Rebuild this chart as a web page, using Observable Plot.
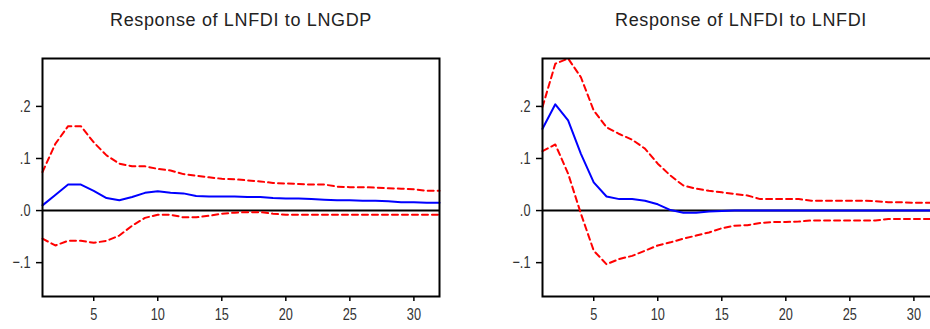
<!DOCTYPE html>
<html>
<head>
<meta charset="utf-8">
<script src="https://cdn.jsdelivr.net/npm/d3@7"></script>
<script src="https://cdn.jsdelivr.net/npm/@observablehq/plot@0.6"></script>
<style>
  html, body { margin: 0; padding: 0; background: #fff; }
  #wrap { position: relative; width: 930px; height: 329px; overflow: hidden; background: #fff; }
  #wrap > svg { position: absolute; top: 0; }
  #wrap text.panel-title { letter-spacing: 0.65px; }
</style>
</head>
<body>
<div id="wrap"></div>
<script>
// Periods (horizon)
const periods = [1,2,3,4,5,6,7,8,9,10,11,12,13,14,15,16,17,18,19,20,21,22,23,24,25,26,27,28,29,30,31,32];

// Panel titles
const titles = ["Response of LNFDI to LNGDP", "Response of LNFDI to LNFDI"];

// Tick values
const yTicks = [-0.1, 0.0, 0.1, 0.2];
const xTicks = [5, 10, 15, 20, 25, 30];

// Panel 1: response of LNFDI to LNGDP
const gdpResp  = [0.010,0.030,0.050,0.050,0.038,0.024,0.020,0.026,0.034,0.037,0.034,0.033,0.028,0.027,0.027,0.027,0.026,0.026,0.024,0.023,0.023,0.022,0.021,0.020,0.020,0.019,0.019,0.018,0.016,0.016,0.015,0.015];
const gdpUpper = [0.074,0.128,0.162,0.162,0.131,0.106,0.090,0.085,0.085,0.080,0.077,0.070,0.067,0.064,0.061,0.060,0.058,0.056,0.053,0.052,0.051,0.050,0.050,0.046,0.045,0.045,0.044,0.043,0.042,0.041,0.038,0.038];
const gdpLower = [-0.054,-0.067,-0.058,-0.058,-0.062,-0.058,-0.048,-0.029,-0.014,-0.008,-0.008,-0.013,-0.013,-0.010,-0.006,-0.004,-0.003,-0.003,-0.006,-0.008,-0.008,-0.008,-0.008,-0.008,-0.008,-0.008,-0.008,-0.008,-0.008,-0.008,-0.008,-0.008];

// Panel 2: response of LNFDI to LNFDI
const fdiResp  = [0.157,0.204,0.173,0.109,0.054,0.027,0.022,0.022,0.019,0.012,0.001,-0.004,-0.004,-0.002,-0.001,0.000,0.000,0.000,0.000,0.000,0.000,0.000,0.000,0.000,0.000,0.000,0.000,0.000,0.000,0.000,0.000,0.000];
const fdiUpper = [0.199,0.282,0.292,0.256,0.192,0.160,0.147,0.136,0.119,0.090,0.067,0.048,0.042,0.038,0.035,0.032,0.029,0.022,0.022,0.022,0.022,0.019,0.019,0.019,0.019,0.019,0.018,0.016,0.016,0.015,0.015,0.015];
const fdiLower = [0.114,0.127,0.071,-0.006,-0.077,-0.103,-0.093,-0.087,-0.077,-0.067,-0.061,-0.054,-0.048,-0.042,-0.034,-0.029,-0.028,-0.024,-0.022,-0.022,-0.021,-0.019,-0.019,-0.019,-0.019,-0.019,-0.019,-0.016,-0.016,-0.016,-0.016,-0.016];

const panels = [
  {title: titles[0], resp: gdpResp, upper: gdpUpper, lower: gdpLower, left: 0, width: 465, marginLeft: 42, marginRight: 26},
  {title: titles[1], resp: fdiResp, upper: fdiUpper, lower: fdiLower, left: 465, width: 500, marginLeft: 77, marginRight: 26}
];

const fmtY = d => d === 0 ? ".0" : d3.format(".1f")(d).replace("0.", ".");

for (const p of panels) {
  const rows = periods.map((t, i) => ({t, resp: p.resp[i], upper: p.upper[i], lower: p.lower[i]}));
  const chart = Plot.plot({
    width: p.width,
    height: 329,
    marginLeft: p.marginLeft,
    marginRight: p.marginRight,
    marginTop: 58,
    marginBottom: 33,
    style: {fontFamily: "'Liberation Sans', Arial, sans-serif", fontSize: "16px", color: "#333", background: "#fff"},
    x: {domain: [1, 32], label: null},
    y: {domain: [-0.165, 0.292], label: null},
    marks: [
      Plot.ruleY([0], {stroke: "black", strokeWidth: 2}),
      Plot.line(rows, {x: "t", y: "upper", stroke: "#ff0000", strokeWidth: 2, strokeDasharray: "6,4"}),
      Plot.line(rows, {x: "t", y: "lower", stroke: "#ff0000", strokeWidth: 2, strokeDasharray: "6,4"}),
      Plot.line(rows, {x: "t", y: "resp", stroke: "#0000ff", strokeWidth: 2}),
      Plot.frame({stroke: "black", strokeWidth: 2}),
      Plot.axisX({ticks: xTicks, tickSize: 5, tickPadding: 6, fontSize: 17, stroke: "black", strokeWidth: 1.5}),
      Plot.axisY({ticks: yTicks, tickSize: 6, tickPadding: 6, fontSize: 17, tickFormat: fmtY, stroke: "black", strokeWidth: 1.5}),
      Plot.text([p.title], {frameAnchor: "top", dy: -33, lineAnchor: "bottom", fontSize: 18, fill: "#222",
        fontFamily: "'Liberation Sans', Arial, sans-serif", className: "panel-title"})
    ]
  });
  // Narrow the tick label glyphs (condensed look of the original)
  chart.querySelectorAll('g[aria-label="x-axis tick label"] text, g[aria-label="y-axis tick label"] text').forEach(t => {
    const tr = t.getAttribute("transform") || "";
    t.setAttribute("transform", tr + " scale(0.75,1)");
  });
  // Title letter spacing
  chart.querySelectorAll('g[aria-label="text"] text').forEach(t => t.setAttribute("class", "panel-title"));
  chart.style.left = p.left + "px";
  document.getElementById("wrap").appendChild(chart);
}
</script>
</body>
</html>
